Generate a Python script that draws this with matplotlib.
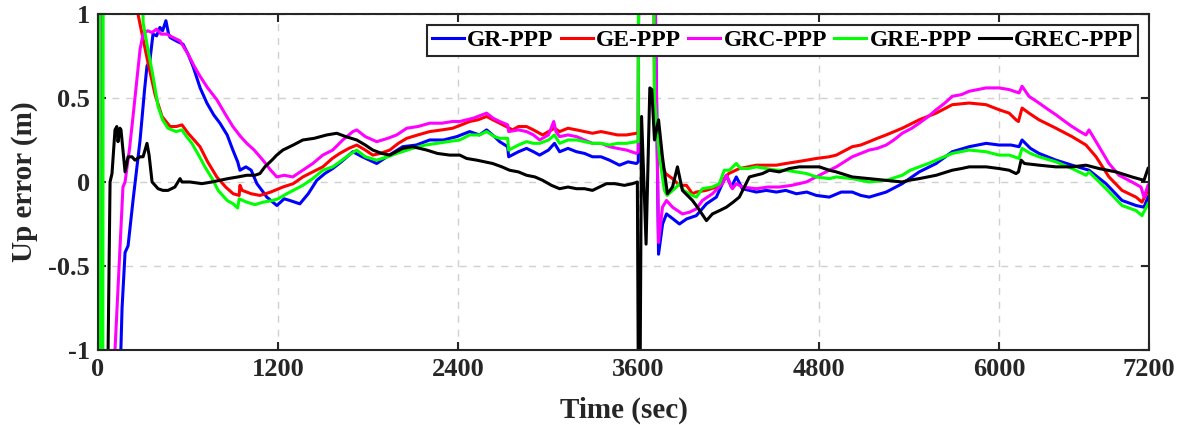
import matplotlib
matplotlib.use("Agg")
import matplotlib.pyplot as plt

plt.rcParams["font.family"] = ["Liberation Serif", "DejaVu Serif"]
plt.rcParams["font.weight"] = "bold"

# time axis (sec) and tick labels as printed on the figure
x_ticks = [0, 1200, 2400, 3600, 4800, 6000, 7000]
x_tick_labels = ["0", "1200", "2400", "3600", "4800", "6000", "7200"]
y_ticks = [-1, -0.5, 0, 0.5, 1]
y_tick_labels = ["-1", "-0.5", "0", "0.5", "1"]

names = ["GR-PPP", "GE-PPP", "GRC-PPP", "GRE-PPP", "GREC-PPP"]
colors = ["#0000ff", "#ff0000", "#ff00ff", "#00ff00", "#000000"]

gr_t = [0, 120, 160, 180, 200, 233, 280, 310, 326, 345, 366, 390, 412, 430, 452, 470, 480, 520, 566, 600,
        632, 680, 725, 770, 812, 860, 898, 930, 945, 985, 1020, 1058, 1100, 1124, 1191, 1240, 1277, 1344,
        1400, 1457, 1510, 1563, 1620, 1697, 1760, 1856, 1940, 2029, 2120, 2209, 2300, 2389, 2475, 2540,
        2588, 2640, 2675, 2728, 2735, 2800, 2854, 2900, 2941, 3000, 3040, 3074, 3130, 3187, 3240, 3293,
        3350, 3406, 3473, 3530, 3586, 3598, 3604, 3685, 3733, 3760, 3786, 3830, 3872, 3920, 3985, 4052,
        4118, 4158, 4185, 4218, 4251, 4291, 4385, 4450, 4518, 4580, 4651, 4720, 4784, 4870, 4950, 5023,
        5080, 5136, 5249, 5356, 5469, 5582, 5689, 5802, 5915, 6001, 6080, 6134, 6154, 6210, 6267, 6380,
        6487, 6600, 6713, 6820, 6913, 6966, 6993]
gr_v = [-3.0, -2.0, -0.75, -0.42, -0.38, -0.11, 0.25, 0.55, 0.69, 0.72, 0.88, 0.87, 0.92, 0.90, 0.96, 0.88,
        0.86, 0.84, 0.82, 0.76, 0.69, 0.56, 0.47, 0.40, 0.35, 0.28, 0.19, 0.12, 0.07, 0.09, 0.07, -0.01,
        -0.06, -0.09, -0.14, -0.10, -0.11, -0.13, -0.07, 0.01, 0.05, 0.08, 0.12, 0.18, 0.15, 0.11, 0.16,
        0.21, 0.22, 0.25, 0.25, 0.27, 0.30, 0.28, 0.31, 0.27, 0.24, 0.21, 0.15, 0.18, 0.20, 0.18, 0.16,
        0.19, 0.23, 0.18, 0.20, 0.18, 0.17, 0.15, 0.15, 0.13, 0.10, 0.12, 0.11, 0.12, 3.0, 3.0, -0.43,
        -0.25, -0.19, -0.22, -0.25, -0.22, -0.20, -0.13, -0.09, -0.01, 0.04, -0.03, 0.03, -0.04, -0.06,
        -0.05, -0.06, -0.05, -0.07, -0.06, -0.08, -0.09, -0.06, -0.06, -0.08, -0.09, -0.06, -0.01, 0.06,
        0.11, 0.18, 0.21, 0.23, 0.22, 0.22, 0.21, 0.25, 0.20, 0.17, 0.13, 0.10, 0.07, -0.01, -0.11, -0.14,
        -0.15, -0.09]

ge_t = [0, 200, 266, 300, 340, 380, 426, 480, 520, 559, 600, 640, 679, 730, 791, 850, 900, 940, 945, 960,
        1020, 1078, 1150, 1231, 1300, 1364, 1430, 1497, 1560, 1610, 1670, 1723, 1780, 1830, 1880, 1943,
        2000, 2056, 2130, 2209, 2290, 2362, 2420, 2475, 2530, 2588, 2630, 2675, 2761, 2800, 2854, 2900,
        2961, 3000, 3040, 3074, 3130, 3187, 3240, 3293, 3350, 3406, 3460, 3520, 3586, 3598, 3604, 3690,
        3706, 3745, 3780, 3826, 3872, 3919, 3959, 3985, 4050, 4118, 4158, 4200, 4271, 4330, 4385, 4450,
        4518, 4580, 4651, 4720, 4784, 4870, 4917, 5023, 5080, 5136, 5190, 5249, 5356, 5469, 5582, 5689,
        5802, 5915, 6001, 6068, 6114, 6130, 6154, 6200, 6267, 6380, 6487, 6580, 6647, 6733, 6820, 6913,
        6953, 6993]
ge_v = [3.0, 1.6, 1.0, 0.85, 0.68, 0.52, 0.39, 0.33, 0.33, 0.34, 0.29, 0.25, 0.21, 0.12, 0.03, -0.03, -0.07,
        -0.08, -0.02, -0.05, -0.07, -0.08, -0.06, -0.03, -0.01, 0.03, 0.06, 0.09, 0.14, 0.17, 0.20, 0.22,
        0.19, 0.16, 0.17, 0.19, 0.23, 0.26, 0.28, 0.30, 0.31, 0.32, 0.34, 0.36, 0.37, 0.39, 0.37, 0.35,
        0.31, 0.33, 0.33, 0.31, 0.28, 0.30, 0.32, 0.30, 0.32, 0.31, 0.30, 0.29, 0.30, 0.29, 0.28, 0.28,
        0.29, 0.29, 3.0, 3.0, 0.50, 0.13, 0.05, 0.02, -0.02, -0.02, -0.07, -0.06, -0.05, -0.03, 0.01, 0.05,
        0.08, 0.09, 0.10, 0.10, 0.10, 0.11, 0.12, 0.13, 0.14, 0.15, 0.16, 0.21, 0.22, 0.24, 0.26, 0.28,
        0.32, 0.37, 0.41, 0.46, 0.47, 0.46, 0.43, 0.41, 0.37, 0.36, 0.44, 0.41, 0.37, 0.32, 0.27, 0.22,
        0.15, 0.03, -0.05, -0.09, -0.12, -0.05]

grc_t = [0, 20, 24, 32, 100, 113, 140, 166, 180, 210, 233, 260, 280, 300, 330, 360, 390, 420, 459, 500, 546,
         600, 640, 679, 730, 791, 850, 898, 950, 991, 1040, 1098, 1150, 1191, 1240, 1297, 1364, 1430, 1497,
         1563, 1630, 1697, 1723, 1780, 1856, 1930, 1989, 2056, 2130, 2209, 2290, 2362, 2409, 2500, 2588,
         2630, 2675, 2728, 2735, 2800, 2854, 2900, 2941, 3000, 3035, 3050, 3074, 3130, 3187, 3240, 3293,
         3350, 3406, 3460, 3520, 3586, 3598, 3604, 3680, 3733, 3759, 3786, 3826, 3892, 3939, 3985, 4025,
         4092, 4158, 4185, 4225, 4251, 4291, 4385, 4460, 4538, 4620, 4717, 4804, 4870, 4917, 4970, 5023,
         5080, 5136, 5190, 5249, 5300, 5356, 5420, 5469, 5530, 5582, 5640, 5689, 5750, 5802, 5860, 5915,
         6001, 6068, 6134, 6154, 6200, 6267, 6330, 6380, 6440, 6487, 6540, 6580, 6600, 6667, 6733, 6800,
         6886, 6946, 6966, 6993]
grc_v = [2.0, 2.0, 0.27, -2.0, -2.0, -1.0, -0.5, -0.03, 0.0, 0.2, 0.39, 0.62, 0.79, 0.88, 0.90, 0.89, 0.91,
         0.88, 0.88, 0.86, 0.84, 0.76, 0.69, 0.63, 0.56, 0.49, 0.40, 0.33, 0.27, 0.23, 0.19, 0.13, 0.07,
         0.03, 0.04, 0.03, 0.07, 0.11, 0.16, 0.19, 0.25, 0.30, 0.31, 0.27, 0.24, 0.26, 0.28, 0.32, 0.33,
         0.35, 0.35, 0.36, 0.36, 0.38, 0.41, 0.38, 0.36, 0.34, 0.30, 0.31, 0.30, 0.28, 0.25, 0.28, 0.36,
         0.30, 0.27, 0.28, 0.27, 0.25, 0.23, 0.23, 0.21, 0.20, 0.19, 0.17, 0.18, 3.0, 3.0, -0.36, -0.15,
         -0.11, -0.15, -0.19, -0.18, -0.16, -0.11, -0.07, -0.01, 0.04, -0.04, -0.01, -0.03, -0.04, -0.03,
         -0.03, -0.02, 0.0, 0.04, 0.07, 0.09, 0.12, 0.15, 0.17, 0.19, 0.20, 0.22, 0.25, 0.29, 0.32, 0.35,
         0.39, 0.43, 0.47, 0.51, 0.52, 0.54, 0.55, 0.56, 0.56, 0.55, 0.53, 0.57, 0.51, 0.47, 0.43, 0.40,
         0.36, 0.33, 0.30, 0.28, 0.31, 0.21, 0.11, 0.04, 0.0, -0.03, -0.09, -0.02]

gre_t = [0, 8, 14, 30, 36, 290, 300, 330, 366, 400, 430, 466, 520, 559, 590, 625, 670, 712, 760, 800, 860,
         900, 930, 940, 990, 1045, 1100, 1164, 1200, 1257, 1300, 1364, 1430, 1497, 1563, 1610, 1670, 1723,
         1780, 1856, 1930, 1989, 2096, 2180, 2256, 2330, 2409, 2475, 2540, 2588, 2640, 2675, 2728, 2735,
         2800, 2854, 2900, 2941, 3000, 3040, 3074, 3130, 3187, 3240, 3293, 3350, 3406, 3460, 3520, 3586,
         3598, 3602, 3690, 3706, 3739, 3772, 3790, 3852, 3872, 3900, 3959, 3985, 4025, 4092, 4138, 4171,
         4205, 4251, 4280, 4330, 4385, 4450, 4518, 4580, 4651, 4720, 4784, 4870, 4917, 5023, 5136, 5249,
         5356, 5410, 5469, 5530, 5582, 5689, 5802, 5915, 6001, 6068, 6134, 6154, 6210, 6267, 6380, 6487,
         6580, 6600, 6713, 6820, 6913, 6953, 6993]
gre_v = [3.0, 3.0, -3.0, -3.0, 3.0, 3.0, 0.95, 0.80, 0.63, 0.45, 0.37, 0.32, 0.30, 0.31, 0.27, 0.23, 0.16,
         0.09, 0.02, -0.05, -0.11, -0.13, -0.155, -0.10, -0.12, -0.135, -0.12, -0.11, -0.10, -0.07, -0.05,
         -0.02, 0.02, 0.07, 0.09, 0.12, 0.16, 0.19, 0.15, 0.13, 0.15, 0.17, 0.20, 0.22, 0.23, 0.24, 0.25,
         0.28, 0.28, 0.30, 0.27, 0.26, 0.26, 0.19, 0.22, 0.24, 0.23, 0.23, 0.25, 0.28, 0.23, 0.25, 0.25,
         0.24, 0.23, 0.23, 0.22, 0.23, 0.23, 0.24, 0.24, 3.0, 3.0, 0.49, 0.15, -0.05, -0.08, -0.03, -0.01,
         -0.05, -0.08, -0.09, -0.04, -0.03, -0.01, 0.07, 0.07, 0.11, 0.08, 0.08, 0.09, 0.08, 0.07, 0.07,
         0.06, 0.05, 0.03, 0.02, 0.03, 0.02, 0.0, 0.01, 0.04, 0.07, 0.09, 0.11, 0.13, 0.17, 0.19, 0.18,
         0.16, 0.16, 0.14, 0.20, 0.17, 0.15, 0.12, 0.08, 0.04, 0.06, -0.04, -0.14, -0.17, -0.20, -0.13]

grec_t = [0, 55, 67, 80, 93, 113, 125, 133, 146, 153, 180, 200, 226, 246, 280, 300, 326, 340, 360, 400, 432,
          466, 512, 546, 559, 612, 692, 758, 865, 932, 990, 1045, 1078, 1111, 1158, 1190, 1231, 1300, 1364,
          1440, 1523, 1590, 1650, 1723, 1780, 1830, 1890, 1943, 2029, 2096, 2189, 2260, 2342, 2409, 2455,
          2522, 2628, 2690, 2741, 2800, 2854, 2910, 2961, 3020, 3074, 3130, 3187, 3240, 3293, 3340, 3386,
          3440, 3506, 3560, 3592, 3600, 3608, 3620, 3650, 3675, 3688, 3706, 3733, 3759, 3792, 3826, 3859,
          3892, 3959, 3992, 4052, 4092, 4140, 4185, 4230, 4271, 4338, 4380, 4425, 4471, 4538, 4604, 4670,
          4737, 4804, 4870, 4917, 5023, 5136, 5249, 5356, 5400, 5469, 5582, 5689, 5750, 5802, 5915, 6001,
          6068, 6114, 6130, 6148, 6170, 6267, 6380, 6487, 6580, 6667, 6780, 6886, 6966, 6993]
grec_v = [-3.0, -3.0, -1.0, 0.0, 0.05, 0.31, 0.33, 0.24, 0.32, 0.31, 0.06, 0.15, 0.15, 0.13, 0.15, 0.15,
          0.23, 0.16, 0.0, -0.04, -0.05, -0.05, -0.03, 0.02, 0.0, 0.0, -0.01, 0.0, 0.02, 0.03, 0.04, 0.04,
          0.05, 0.09, 0.13, 0.16, 0.19, 0.22, 0.25, 0.26, 0.28, 0.29, 0.27, 0.25, 0.22, 0.19, 0.17, 0.16,
          0.20, 0.21, 0.19, 0.17, 0.16, 0.16, 0.14, 0.13, 0.11, 0.09, 0.07, 0.06, 0.04, 0.03, 0.01, -0.02,
          -0.04, -0.03, -0.04, -0.04, -0.05, -0.03, -0.01, -0.01, -0.02, -0.01, 0.0, -1.5, -1.5, 0.39,
          -0.37, 0.56, 0.55, 0.25, 0.37, 0.15, -0.07, -0.03, 0.09, -0.05, -0.11, -0.15, -0.23, -0.19, -0.17,
          -0.15, -0.12, -0.09, 0.03, 0.04, 0.05, 0.07, 0.06, 0.08, 0.09, 0.09, 0.09, 0.07, 0.06, 0.03, 0.02,
          0.01, 0.0, 0.01, 0.02, 0.04, 0.07, 0.08, 0.09, 0.09, 0.08, 0.07, 0.05, 0.06, 0.13, 0.11, 0.10,
          0.09, 0.09, 0.10, 0.08, 0.06, 0.03, 0.01, 0.08]

series = [(gr_t, gr_v), (ge_t, ge_v), (grc_t, grc_v), (gre_t, gre_v), (grec_t, grec_v)]

fig = plt.figure(figsize=(11.84, 4.25), dpi=100)
ax = fig.add_axes([0.0828, 0.1765, 0.8877, 0.7906])

for (t, v), name, c in zip(series, names, colors):
    ax.plot(t, v, color=c, lw=2.2, label=name)

ax.set_xlim(0, 7000)
ax.set_ylim(-1, 1)
ax.set_xticks(x_ticks, x_tick_labels, fontsize=19, fontweight="bold")
ax.set_yticks(y_ticks, y_tick_labels, fontsize=19, fontweight="bold")
ax.tick_params(direction="in", top=True, right=True, length=6, width=1.5, colors="#262626", pad=6)
ax.grid(True, linestyle=(0, (5, 5)), color="#d0d0d0", lw=1)
ax.set_axisbelow(True)
for sp in ax.spines.values():
    sp.set_linewidth(1.5)
    sp.set_color("#262626")

ax.set_xlabel("Time (sec)", fontsize=21, fontweight="bold", labelpad=11, color="#262626")
ax.set_ylabel("Up error (m)", fontsize=21, fontweight="bold", labelpad=7, color="#262626")

leg = ax.legend(loc="upper right", bbox_to_anchor=(0.9895, 0.967), borderaxespad=0, ncol=5,
                handlelength=1.35, handletextpad=0.15, columnspacing=0.3,
                borderpad=0.2, fancybox=False, framealpha=1, edgecolor="#262626",
                prop={"weight": "bold", "size": 17})
leg.get_frame().set_linewidth(1.5)

fig.savefig("out.png", dpi=100)
